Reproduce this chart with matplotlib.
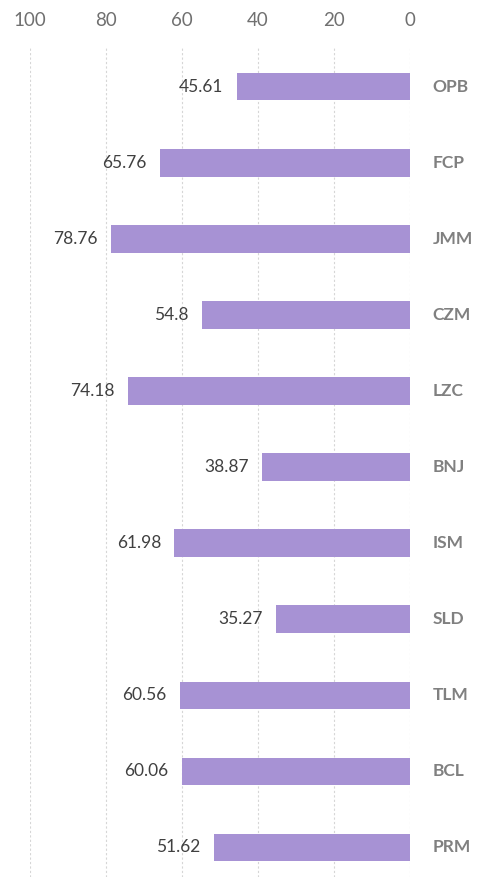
import matplotlib.pyplot as plt
import numpy as np

names = ["OPB", "FCP", "JMM", "CZM", "LZC", "BNJ", "ISM", "SLD", "TLM", "BCL", "PRM"]
scores = [45.61, 65.76, 78.76, 54.8, 74.18, 38.87, 61.98, 35.27, 60.56, 60.06, 51.62]
ticks = [100, 80, 60, 40, 20, 0]

plt.rcParams['font.family'] = ['Lato', 'DejaVu Sans']

fig = plt.figure(figsize=(4.84, 8.77), dpi=100)
ax = fig.add_axes([30 / 484, 0, 380 / 484, (877 - 48) / 877])

y = np.arange(len(names))
ax.barh(y, scores, height=0.36, color="#a792d4", zorder=2)

ax.set_xlim(100, 0)
ax.set_ylim(10.39, -0.51)
ax.set_xticks(ticks)
ax.xaxis.tick_top()
ax.tick_params(axis="x", length=0, pad=14, labelsize=13.5, labelcolor="#707070")
ax.set_yticks([])
ax.grid(axis="x", color="#d6d6d6", linestyle=(0, (2, 2)), linewidth=0.8, zorder=0)
for s in ax.spines.values():
    s.set_visible(False)

for i, v in enumerate(scores):
    ax.text(v + 3.5, i, f"{v:g}", ha="right", va="center", fontsize=12.5, color="#404040")
    ax.text(-6.0, i, names[i], ha="left", va="center", fontsize=12.5,
            color="#808080", fontweight="bold", clip_on=False)

fig.savefig("out.png", dpi=100)
